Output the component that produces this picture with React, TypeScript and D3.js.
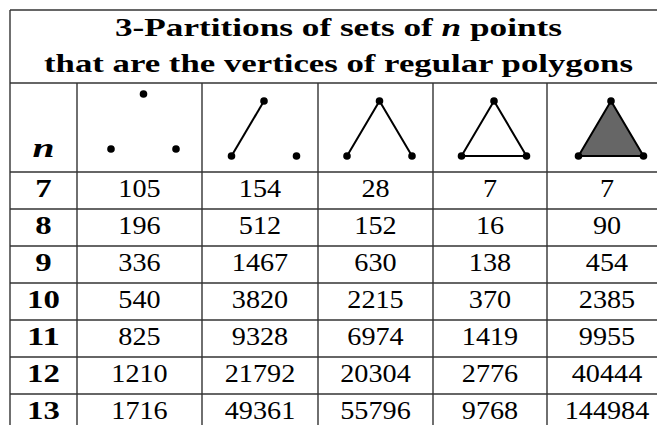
import React from 'react';
import * as d3 from 'd3';

const N_VALUES = [7, 8, 9, 10, 11, 12, 13];
const THREE_POINTS = [105, 196, 336, 540, 825, 1210, 1716];
const ONE_EDGE = [154, 512, 1467, 3820, 9328, 21792, 49361];
const TWO_EDGES = [28, 152, 630, 2215, 6974, 20304, 55796];
const TRIANGLE = [7, 16, 138, 370, 1419, 2776, 9768];
const FILLED = [7, 90, 454, 2385, 9955, 40444, 144984];

const COLUMNS = [THREE_POINTS, ONE_EDGE, TWO_EDGES, TRIANGLE, FILLED];
const ICONS = ['dots', 'edge', 'path', 'triangle', 'filled'];
const TITLE_LINES = ['3-Partitions of sets of ', 'that are the vertices of regular polygons'];

const W = 657;
const H = 425;
const LEFT = 10;
const TOP = 10;
const TITLE_BOTTOM = 83;
const HEADER_BOTTOM = 172;
const ROW_H = 37;
const COL_EDGES = [10, 77, 202, 318, 433, 547, 667];
const LINE = '#333';
const serif = 'Liberation Serif, Times New Roman, Times, serif';

export default function App() {
  const rows = d3
    .scaleBand<number>()
    .domain(N_VALUES)
    .range([HEADER_BOTTOM, HEADER_BOTTOM + ROW_H * N_VALUES.length]);

  const colMid = (i: number) => (COL_EDGES[i] + COL_EDGES[i + 1]) / 2;
  const titleX = (COL_EDGES[0] + COL_EDGES[COL_EDGES.length - 1]) / 2;

  // triangle vertices relative to the icon centre
  const tri = { apex: [0, -27.5], bl: [-32.5, 27.5], br: [32.5, 27.5] };
  const line = d3.line();

  const icon = (kind: string, i: number) => {
    const cx = colMid(i + 1) + 4;
    const cy = kind === 'dots' ? 121.5 : 128.5;
    const p = (v: number[]): [number, number] => [cx + v[0], cy + v[1]];
    const A = p(tri.apex), B = p(tri.bl), C = p(tri.br);
    const dots = [A, B, C].map((d, j) => (
      <circle key={j} cx={d[0]} cy={d[1]} r={3.8} fill="#000" />
    ));
    let shape: React.ReactNode = null;
    if (kind === 'edge') {
      shape = <path d={line([B, A]) || ''} stroke="#000" strokeWidth={2} fill="none" />;
    } else if (kind === 'path') {
      shape = <path d={line([B, A, C]) || ''} stroke="#000" strokeWidth={2} fill="none" />;
    } else if (kind === 'triangle') {
      shape = <path d={(line([A, B, C]) || '') + 'Z'} stroke="#000" strokeWidth={2} fill="none" />;
    } else if (kind === 'filled') {
      shape = <path d={(line([A, B, C]) || '') + 'Z'} stroke="#000" strokeWidth={2} fill="#666" />;
    }
    return (
      <g key={kind}>
        {shape}
        {dots}
      </g>
    );
  };

  const bottom = H + 20;

  return (
    <svg
      width={W}
      height={H}
      style={{ position: 'absolute', left: 0, top: 0, background: '#fff', fontFamily: serif }}
    >
      <rect x={0} y={0} width={W} height={H} fill="#fff" />

      {/* title */}
      <text
        x={titleX}
        y={36}
        textAnchor="middle"
        fontWeight="bold"
        fontSize={25}
        textLength={447}
        lengthAdjust="spacingAndGlyphs"
      >
        {TITLE_LINES[0]}
        <tspan fontStyle="italic">n</tspan>
        {' points'}
      </text>
      <text
        x={titleX}
        y={72}
        textAnchor="middle"
        fontWeight="bold"
        fontSize={25}
        textLength={589}
        lengthAdjust="spacingAndGlyphs"
      >
        {TITLE_LINES[1]}
      </text>

      {/* header */}
      <text
        x={colMid(0)}
        y={157}
        textAnchor="middle"
        fontWeight="bold"
        fontStyle="italic"
        fontSize={27}
        textLength={22}
        lengthAdjust="spacingAndGlyphs"
      >
        n
      </text>
      {ICONS.map((k, i) => icon(k, i))}

      {/* body */}
      {N_VALUES.map((n, r) => (
        <g key={n}>
          <text
            x={colMid(0)}
            y={(rows(n) || 0) + 25}
            textAnchor="middle"
            fontWeight="bold"
            fontSize={25}
            textLength={String(n).length * 16.4}
            lengthAdjust="spacingAndGlyphs"
          >
            {n}
          </text>
          {COLUMNS.map((col, c) => (
            <text
              key={c}
              x={colMid(c + 1)}
              y={(rows(n) || 0) + 25}
              textAnchor="middle"
              fontSize={25}
              textLength={String(col[r]).length * 14.1}
              lengthAdjust="spacingAndGlyphs"
            >
              {col[r]}
            </text>
          ))}
        </g>
      ))}

      {/* grid lines */}
      <g stroke={LINE} strokeWidth={1.4}>
        <line x1={LEFT} x2={COL_EDGES[6]} y1={TOP} y2={TOP} />
        <line x1={LEFT} x2={COL_EDGES[6]} y1={TITLE_BOTTOM} y2={TITLE_BOTTOM} />
        {N_VALUES.map((n) => (
          <line key={n} x1={LEFT} x2={COL_EDGES[6]} y1={rows(n)} y2={rows(n)} />
        ))}
        <line x1={LEFT} x2={LEFT} y1={TOP} y2={bottom} />
        <line x1={COL_EDGES[6]} x2={COL_EDGES[6]} y1={TOP} y2={bottom} />
        {COL_EDGES.slice(1, 6).map((x) => (
          <line key={x} x1={x} x2={x} y1={TITLE_BOTTOM} y2={bottom} />
        ))}
      </g>
    </svg>
  );
}
